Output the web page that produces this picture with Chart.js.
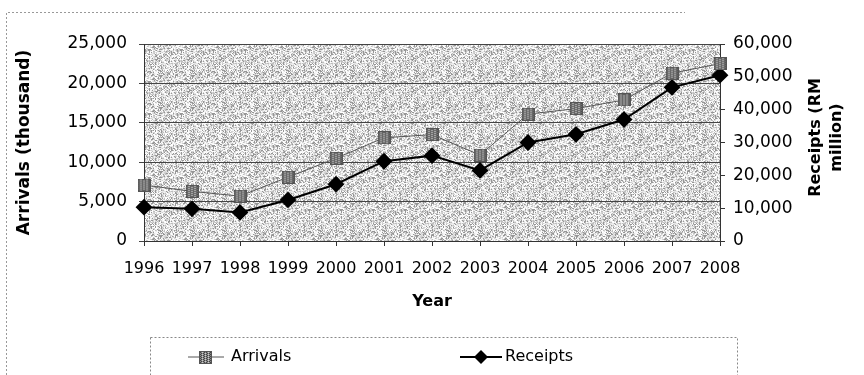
<!DOCTYPE html>
<html lang="en">
<head>
<meta charset="UTF-8">
<title>Arrivals and Receipts</title>
<script src="https://cdn.jsdelivr.net/npm/chart.js"></script>
<style>
  html, body { margin: 0; padding: 0; background: #fff; }
  #wrap { width: 864px; height: 375px; position: relative; }
</style>
</head>
<body>
<div id="wrap"><canvas id="grafico" width="864" height="375"></canvas></div>
<script>
    // dados
    const anos = ['1996', '1997', '1998', '1999', '2000', '2001', '2002', '2003', '2004', '2005', '2006', '2007', '2008'];
    const chegadas = [7100, 6300, 5700, 8100, 10500, 13100, 13500, 10900, 16100, 16800, 17900, 21300, 22500];
    const receitas = [10300, 9800, 8700, 12500, 17300, 24300, 26000, 21500, 30000, 32500, 37000, 46800, 50500];
    const ticksEsq = [0, 5000, 10000, 15000, 20000, 25000];
    const ticksDir = [0, 10000, 20000, 30000, 40000, 50000, 60000];

    const fonte = 'DejaVu Sans';

    // textura pontilhada do fundo (deterministica)
    function criarTextura() {
        const c = document.createElement('canvas');
        c.width = 32; c.height = 32;
        const g = c.getContext('2d');
        const tons = [255, 245, 230, 210, 190, 150];
        for (let y = 0; y < 32; y++) {
            for (let x = 0; x < 32; x++) {
                let h = (x * 374761393 + y * 668265263) | 0;
                h = (h ^ (h >>> 13)) * 1274126177 | 0;
                h = (h ^ (h >>> 16)) >>> 0;
                const t = tons[h % tons.length];
                g.fillStyle = `rgb(${t},${t},${t})`;
                g.fillRect(x, y, 1, 1);
            }
        }
        return c;
    }

    // marcador quadrado xadrez da serie Arrivals
    function criarMarcador() {
        const c = document.createElement('canvas');
        c.width = 13; c.height = 13;
        const g = c.getContext('2d');
        g.fillStyle = '#8a8a8a';
        g.fillRect(0, 0, 13, 13);
        for (let y = 1; y < 12; y++) {
            for (let x = 1; x < 12; x++) {
                if ((x + y) % 2 === 0) {
                    g.fillStyle = (x % 3 === 0) ? '#ccc' : '#444';
                    g.fillRect(x, y, 1, 1);
                }
            }
        }
        g.strokeStyle = '#555';
        g.strokeRect(0.5, 0.5, 12, 12);
        return c;
    }

    const textura = criarTextura();
    const marcador = criarMarcador();

    const fundoPlugin = {
        id: 'fundo',
        beforeDraw(chart) {
            const { ctx, chartArea: a } = chart;
            ctx.save();
            ctx.fillStyle = ctx.createPattern(textura, 'repeat');
            ctx.fillRect(a.left, a.top, a.right - a.left, a.bottom - a.top);
            // borda externa tracejada
            ctx.strokeStyle = '#999';
            ctx.lineWidth = 1;
            ctx.setLineDash([2, 2]);
            ctx.beginPath();
            ctx.moveTo(6.5, 375);
            ctx.lineTo(6.5, 12.5);
            ctx.lineTo(685, 12.5);
            ctx.stroke();
            ctx.restore();
        },
        afterDraw(chart) {
            const { ctx, chartArea: a } = chart;
            ctx.save();
            // titulo do eixo direito (duas linhas, lido de baixo para cima)
            ctx.fillStyle = '#000';
            ctx.font = `bold 16px ${fonte}`;
            ctx.textAlign = 'center';
            ctx.textBaseline = 'middle';
            const cy = (a.top + a.bottom) / 2 - 5;
            ctx.translate(816, cy);
            ctx.rotate(-Math.PI / 2);
            ctx.fillText('Receipts (RM', 0, 0);
            ctx.fillText('million)', 0, 21);
            ctx.restore();

            // legenda
            ctx.save();
            ctx.strokeStyle = '#888';
            ctx.setLineDash([2, 2]);
            ctx.lineWidth = 1;
            ctx.strokeRect(150.5, 337.5, 587, 50);
            ctx.setLineDash([]);
            const ly = 357;
            // Arrivals
            ctx.strokeStyle = '#555';
            ctx.lineWidth = 1;
            ctx.beginPath(); ctx.moveTo(188, ly); ctx.lineTo(224, ly); ctx.stroke();
            ctx.drawImage(marcador, 199, ly - 6);
            ctx.fillStyle = '#000';
            ctx.font = `16px ${fonte}`;
            ctx.textBaseline = 'middle';
            ctx.textAlign = 'left';
            ctx.fillText('Arrivals', 231, ly);
            // Receipts
            ctx.strokeStyle = '#000';
            ctx.lineWidth = 2;
            ctx.beginPath(); ctx.moveTo(460, ly); ctx.lineTo(502, ly); ctx.stroke();
            ctx.beginPath();
            ctx.moveTo(481, ly - 7); ctx.lineTo(488, ly); ctx.lineTo(481, ly + 7); ctx.lineTo(474, ly);
            ctx.closePath(); ctx.fill();
            ctx.fillText('Receipts', 505, ly);
            ctx.restore();
        }
    };

    const formato = v => Number(v).toLocaleString('en-US');

    const config = {
        type: 'line',
        data: {
            labels: anos,
            datasets: [
                {
                    label: 'Arrivals',
                    data: chegadas,
                    yAxisID: 'y',
                    borderColor: '#555',
                    borderWidth: 1,
                    pointStyle: marcador,
                    pointRadius: 6,
                    tension: 0
                },
                {
                    label: 'Receipts',
                    data: receitas,
                    yAxisID: 'y1',
                    borderColor: '#000',
                    backgroundColor: '#000',
                    borderWidth: 2,
                    pointStyle: 'rectRot',
                    pointRadius: 7,
                    tension: 0
                }
            ]
        },
        options: {
            responsive: false,
            animation: false,
            layout: { padding: { top: 44, left: 0, right: 0, bottom: 0 } },
            plugins: {
                legend: { display: false },
                tooltip: { enabled: false }
            },
            scales: {
                x: {
                    offset: false,
                    grid: { drawOnChartArea: false, color: '#333', tickLength: 5 },
                    border: { color: '#333' },
                    ticks: {
                        color: '#000', font: { family: fonte, size: 16 },
                        autoSkip: false, maxRotation: 0, padding: 13
                    },
                    title: {
                        display: true, text: 'Year', color: '#000',
                        font: { family: fonte, size: 16, weight: 'bold' },
                        padding: { top: 4, bottom: 64 }
                    },
                    afterFit(s) { s.height = 134; }
                },
                y: {
                    position: 'left',
                    min: 0, max: 25000,
                    afterBuildTicks(s) { s.ticks = ticksEsq.map(v => ({ value: v })); },
                    grid: { color: '#444', tickLength: 5 },
                    border: { color: '#333' },
                    ticks: {
                        color: '#000', font: { family: fonte, size: 17 },
                        padding: 12, callback: formato
                    },
                    title: {
                        display: true, text: 'Arrivals (thousand)', color: '#000',
                        font: { family: fonte, size: 17, weight: 'bold' },
                        padding: { top: 14, bottom: 0 }
                    },
                    afterFit(s) { s.width = 144; }
                },
                y1: {
                    position: 'right',
                    min: 0, max: 60000,
                    afterBuildTicks(s) { s.ticks = ticksDir.map(v => ({ value: v })); },
                    grid: { drawOnChartArea: false, color: '#333', tickLength: 5 },
                    border: { color: '#333' },
                    ticks: {
                        color: '#000', font: { family: fonte, size: 17 },
                        padding: 8, callback: formato
                    },
                    afterFit(s) { s.width = 144; }
                }
            }
        },
        plugins: [fundoPlugin]
    };

    const meuGrafico = new Chart(document.getElementById('grafico'), config);
</script>
</body>
</html>
